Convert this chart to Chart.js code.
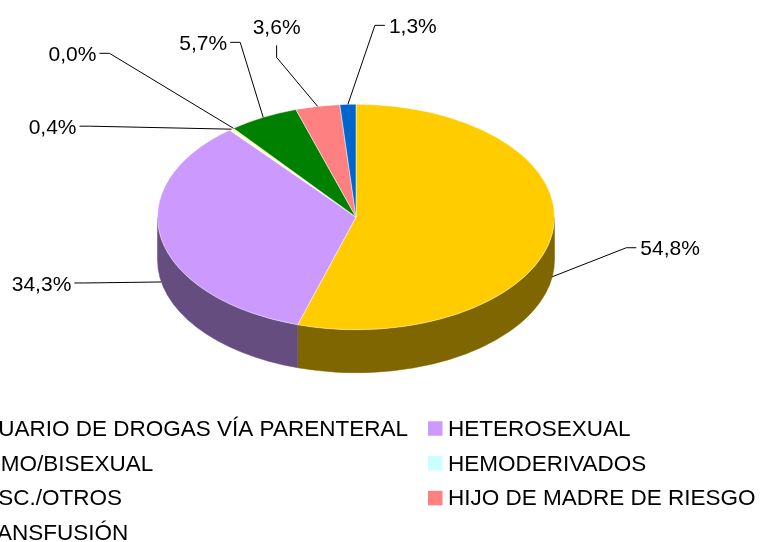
<!DOCTYPE html>
<html>
<head>
<meta charset="utf-8">
<script src="https://cdn.jsdelivr.net/npm/chart.js@4.4.1/dist/chart.umd.min.js"></script>
<style>
  html, body { margin: 0; padding: 0; background: #fff; }
  #wrap { width: 760px; height: 542px; }
</style>
</head>
<body>
<div id="wrap"><canvas id="pie" width="760" height="542"></canvas></div>
<script>
const categories = [
    'USUARIO DE DROGAS VÍA PARENTERAL',
    'HETEROSEXUAL',
    'HOMO/BISEXUAL',
    'HEMODERIVADOS',
    'DESC./OTROS',
    'HIJO DE MADRE DE RIESGO',
    'TRANSFUSIÓN'
];
const percentages = [54.8, 34.3, 0.4, 0.0, 5.7, 3.6, 1.3];
const sliceColors = ['#FFCC00', '#CC99FF', '#FFFFCC', '#CCFFFF', '#008000', '#FF8080', '#0066CC'];

// look of the 3d disc
const TILT = 0.568;
const DEPTH = 43;
const FONT = '"Liberation Sans", Arial, sans-serif';

// where each leader line bends, relative to the slice's edge point
const labelElbows = [[74, -29], [-77, 1], [-142, -3], [-124, -75], [-23, -75], [-41, -49], [27, -79]];
const labelEnds = ['right', 'left', 'left', 'left', 'left', 'up', 'right'];

function darken(hex, f){
    const n = parseInt(hex.slice(1), 16);
    const r = Math.round(((n >> 16) & 255) * f);
    const g = Math.round(((n >> 8) & 255) * f);
    const b = Math.round((n & 255) * f);
    return 'rgb(' + r + ',' + g + ',' + b + ')';
}

const pie3d = {
    id: 'pie3d',
    beforeDatasetsDraw(chart){
        const ctx = chart.ctx;
        const arcs = chart.getDatasetMeta(0).data;
        const cx = arcs[0].x, cy = arcs[0].y, r = arcs[0].outerRadius, ry = r * TILT;

        // front walls of the disc
        ctx.save();
        arcs.forEach((arc, i) => {
            const s = Math.max(arc.startAngle, 0);
            const e = Math.min(arc.endAngle, Math.PI);
            if (e <= s) return;
            ctx.beginPath();
            ctx.ellipse(cx, cy, r, ry, 0, s, e);
            ctx.ellipse(cx, cy + DEPTH, r, ry, 0, e, s, true);
            ctx.closePath();
            ctx.fillStyle = darken(sliceColors[i], 0.5);
            ctx.strokeStyle = ctx.fillStyle;
            ctx.lineWidth = 0.5;
            ctx.fill();
            ctx.stroke();
        });
        ctx.restore();

        // squash the top face into an ellipse
        ctx.save();
        ctx.translate(cx, cy);
        ctx.scale(1, TILT);
        ctx.translate(-cx, -cy);
    },
    afterDatasetsDraw(chart){
        const ctx = chart.ctx;
        ctx.restore();

        const arcs = chart.getDatasetMeta(0).data;
        const cx = arcs[0].x, cy = arcs[0].y, r = arcs[0].outerRadius, ry = r * TILT;
        const size = 21;

        ctx.save();
        ctx.strokeStyle = '#000';
        ctx.lineWidth = 1;
        ctx.fillStyle = '#000';
        ctx.font = size + 'px ' + FONT;
        ctx.textBaseline = 'alphabetic';
        arcs.forEach((arc, i) => {
            const mid = (arc.startAngle + arc.endAngle) / 2;
            const ax = cx + r * Math.cos(mid);
            let ay = cy + ry * Math.sin(mid);
            if (Math.sin(mid) > 0) ay += DEPTH;
            const ex = ax + labelElbows[i][0];
            const ey = ay + labelElbows[i][1];
            const text = percentages[i].toFixed(1).replace('.', ',') + '%';

            ctx.beginPath();
            ctx.moveTo(ax, ay);
            ctx.lineTo(ex, ey);
            if (labelEnds[i] === 'right'){
                ctx.lineTo(ex + 10, ey);
                ctx.stroke();
                ctx.textAlign = 'left';
                ctx.fillText(text, ex + 14, ey + size * 0.36);
            } else if (labelEnds[i] === 'left'){
                ctx.lineTo(ex - 10, ey);
                ctx.stroke();
                ctx.textAlign = 'right';
                ctx.fillText(text, ex - 13, ey + size * 0.36);
            } else {
                ctx.lineTo(ex, ey - 12);
                ctx.stroke();
                ctx.textAlign = 'center';
                ctx.fillText(text, ex, ey - 23);
            }
        });
        ctx.restore();
    },
    afterDraw(chart){
        // two-column legend below the pie, wider than the canvas on the left
        const ctx = chart.ctx;
        const colX = [-53, 428];
        const rowY = 428.5, rowGap = 34.8, box = 14.5;
        ctx.save();
        ctx.font = '22.5px ' + FONT;
        ctx.textAlign = 'left';
        ctx.textBaseline = 'middle';
        categories.forEach((name, i) => {
            const x = colX[i % 2];
            const y = rowY + Math.floor(i / 2) * rowGap;
            ctx.fillStyle = sliceColors[i];
            ctx.fillRect(x, y - box / 2, box, box);
            ctx.fillStyle = '#000';
            ctx.fillText(name, x + 20, y + 1);
        });
        ctx.restore();
    }
};

const data = {
    labels: categories,
    datasets: [{
        data: percentages,
        backgroundColor: sliceColors,
        borderColor: 'rgba(255,255,255,0.6)',
        borderWidth: 1,
        clip: false
    }]
};

const config = {
    type: 'pie',
    data: data,
    options: {
        responsive: false,
        animation: false,
        events: [],
        layout: { padding: { left: 157, right: 205, top: 18, bottom: 126 } },
        plugins: {
            legend: { display: false },
            tooltip: { enabled: false }
        }
    },
    plugins: [pie3d]
};

const pieChart = new Chart(document.getElementById('pie'), config);
</script>
</body>
</html>
